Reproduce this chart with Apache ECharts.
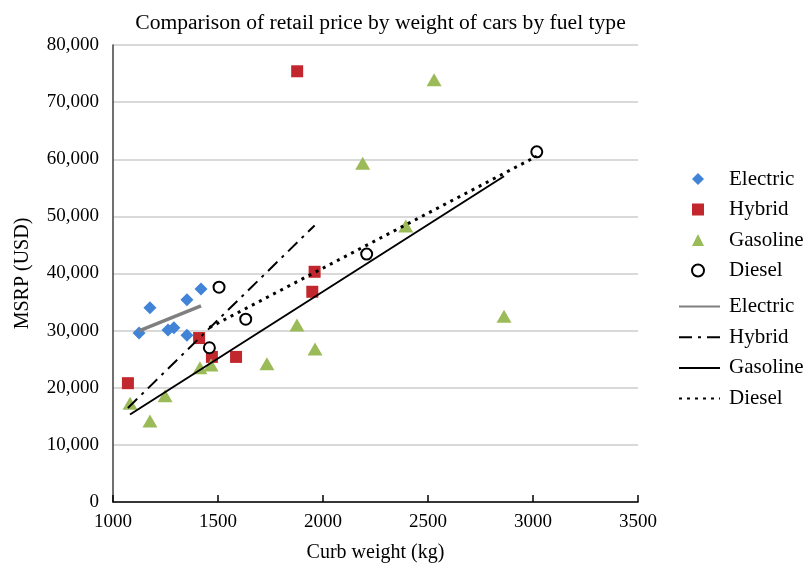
<!DOCTYPE html>
<html><head><meta charset="utf-8">
<script src="https://cdn.jsdelivr.net/npm/echarts@6/dist/echarts.min.js"></script>
<style>html,body{margin:0;padding:0;background:#fff}#c{width:805px;height:566px}</style>
</head><body><div id="c"></div>
<script>
const titleText = 'Comparison of retail price by weight of cars by fuel type';
const xAxisName = 'Curb weight (kg)';
const yAxisName = 'MSRP (USD)';
const seriesNames = ['Electric', 'Hybrid', 'Gasoline', 'Diesel'];

const electricX = [1124, 1176, 1262, 1290, 1352, 1352, 1419];
const electricY = [29600, 34000, 30100, 30500, 35400, 29200, 37300];
const hybridX = [1071, 1410, 1471, 1586, 1877, 1949, 1960];
const hybridY = [20800, 28700, 25400, 25400, 75400, 36800, 40300];
const gasolineX = [1081, 1176, 1248, 1414, 1467, 1733, 1876, 1962, 2189, 2394, 2529, 2862];
const gasolineY = [17300, 14200, 18600, 23500, 24000, 24200, 31000, 26800, 59300, 48300, 73900, 32500];
const dieselX = [1459, 1505, 1632, 2208, 3018];
const dieselY = [27000, 37600, 32000, 43400, 61300];

const xMin = 1000, xMax = 3500, xStep = 500;
const yMin = 0, yMax = 80000, yStep = 10000;

function pairs(xs, ys) { return xs.map((x, i) => [x, ys[i]]); }
function trend(xs, ys) {
  const n = xs.length;
  const mx = xs.reduce((a, b) => a + b, 0) / n;
  const my = ys.reduce((a, b) => a + b, 0) / n;
  let sxy = 0, sxx = 0;
  for (let i = 0; i < n; i++) { sxy += (xs[i] - mx) * (ys[i] - my); sxx += (xs[i] - mx) * (xs[i] - mx); }
  const b = sxy / sxx, a = my - b * mx;
  const lo = Math.min(...xs), hi = Math.max(...xs);
  return [[lo, a + b * lo], [hi, a + b * hi]];
}

const font = 'Liberation Serif';
const chart = echarts.init(document.getElementById('c'), null, {renderer: 'canvas'});
const scatterBase = {type: 'scatter', symbolKeepAspect: true, z: 2};
const lineBase = {type: 'line', symbol: 'circle', symbolSize: 0, showSymbol: false, z: 5, silent: true,
  itemStyle: {color: 'rgba(0,0,0,0)', borderWidth: 0, opacity: 0}};
const legendText = {fontFamily: font, fontSize: 21, color: '#000', lineHeight: 21};

chart.setOption({
  animation: false,
  backgroundColor: '#fff',
  title: {
    text: titleText, left: 375.5, top: 7, textAlign: 'center',
    textStyle: {fontFamily: font, fontSize: 21.6, fontWeight: 'normal', color: '#000'}
  },
  grid: {left: 113, top: 45, width: 525, height: 457, containLabel: false, outerBoundsMode: 'none'},
  legend: [{
    orient: 'vertical', left: 691, top: 168.5, padding: 0,
    itemWidth: 12, itemHeight: 12, itemGap: 9.5,
    textStyle: Object.assign({padding: [0, 0, 0, 20]}, legendText),
    data: seriesNames
  }, {
    orient: 'vertical', left: 678, top: 296, padding: 0,
    itemWidth: 41, itemHeight: 12, itemGap: 9.7,
    textStyle: Object.assign({padding: [0, 0, 0, 4]}, legendText),
    formatter: n => n.replace(' trend', ''),
    data: seriesNames.map(n => n + ' trend')
  }],
  xAxis: {
    type: 'value', min: xMin, max: xMax, interval: xStep,
    name: xAxisName, nameLocation: 'middle', nameGap: 41,
    nameTextStyle: {fontFamily: font, fontSize: 20, color: '#000'},
    axisLine: {show: true, lineStyle: {color: '#000', width: 1.5}},
    axisTick: {show: true, inside: true, length: 7, lineStyle: {color: '#000', width: 1.5}},
    axisLabel: {fontFamily: font, fontSize: 19, color: '#000', margin: 11,
      formatter: v => String(v)},
    splitLine: {show: false}
  },
  yAxis: {
    type: 'value', min: yMin, max: yMax, interval: yStep,
    name: yAxisName, nameLocation: 'middle', nameGap: 80, nameRotate: 90,
    nameTextStyle: {fontFamily: font, fontSize: 20, color: '#000'},
    axisLine: {show: true, lineStyle: {color: '#404040', width: 1.5}},
    axisTick: {show: false},
    axisLabel: {fontFamily: font, fontSize: 19, color: '#000', margin: 14,
      formatter: v => v.toLocaleString('en-US')},
    splitLine: {show: true, lineStyle: {color: '#d9d9d9', width: 2}}
  },
  series: [
    Object.assign({}, scatterBase, {name: 'Electric', symbol: 'diamond', symbolSize: 13,
      itemStyle: {color: '#4183d7', opacity: 1}, data: pairs(electricX, electricY)}),
    Object.assign({}, scatterBase, {name: 'Hybrid', symbol: 'rect', symbolSize: 12,
      itemStyle: {color: '#c1272d', opacity: 1}, data: pairs(hybridX, hybridY)}),
    Object.assign({}, scatterBase, {name: 'Gasoline', symbol: 'triangle', symbolSize: [15, 13],
      itemStyle: {color: '#9bbb59', opacity: 1}, data: pairs(gasolineX, gasolineY)}),
    Object.assign({}, scatterBase, {name: 'Diesel', symbol: 'circle', symbolSize: 11,
      itemStyle: {color: '#fff', borderColor: '#000', borderWidth: 2, opacity: 1}, data: pairs(dieselX, dieselY)}),
    Object.assign({}, lineBase, {name: 'Electric trend', lineStyle: {color: '#7f7f7f', width: 3.5},
      data: trend(electricX, electricY)}),
    Object.assign({}, lineBase, {name: 'Hybrid trend', lineStyle: {color: '#000', width: 2, type: [13, 6, 3, 6]},
      data: trend(hybridX, hybridY)}),
    Object.assign({}, lineBase, {name: 'Gasoline trend', lineStyle: {color: '#000', width: 2},
      data: trend(gasolineX, gasolineY)}),
    Object.assign({}, lineBase, {name: 'Diesel trend', lineStyle: {color: '#000', width: 3, type: [3, 5]},
      data: trend(dieselX, dieselY)})
  ]
});
</script></body></html>
